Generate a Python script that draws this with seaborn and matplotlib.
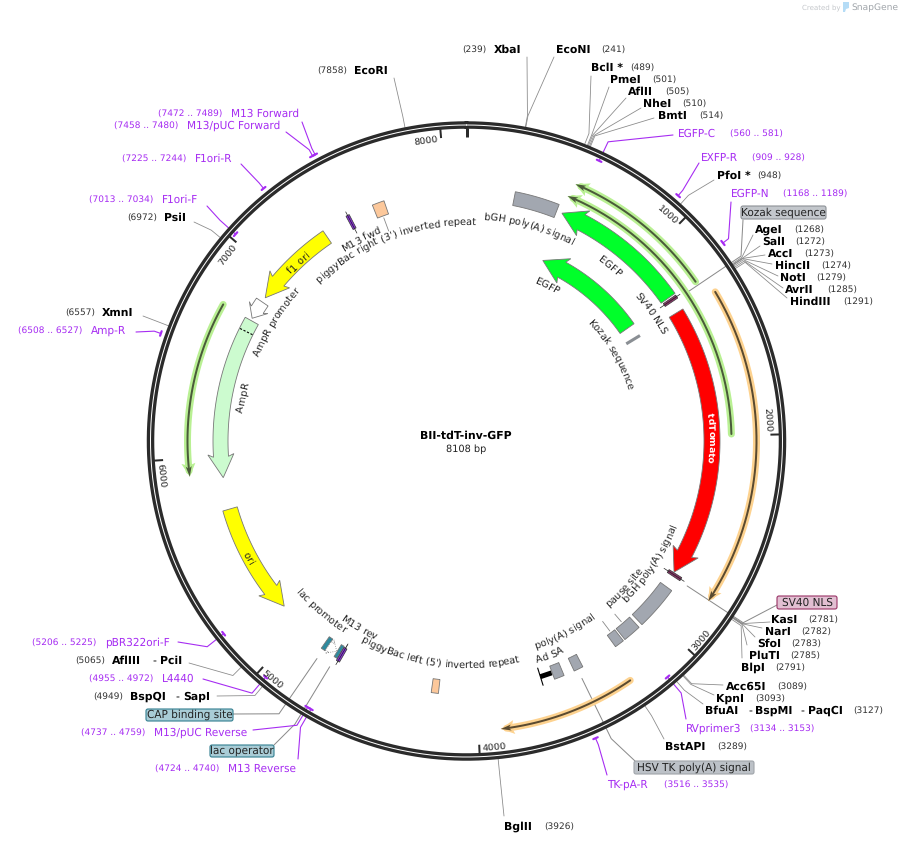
"""Plasmid map of BII-tdT-inv-GFP drawn on a pixel-sized axes."""
import numpy as np
import matplotlib
matplotlib.use("Agg")
import matplotlib.pyplot as plt
from matplotlib.font_manager import FontProperties
from matplotlib.patches import FancyBboxPatch
from matplotlib.textpath import text_to_path
import seaborn as sns

PLASMID_NAME = "BII-tdT-inv-GFP"
TOTAL_BP = 8108
TICK_BPS = [1000, 2000, 3000, 4000, 5000, 6000, 7000, 8000]

# ---- values (bp) ----
enzyme_names = ["XbaI", "EcoNI", "BclI *", "PmeI", "AflII", "NheI", "BmtI", "PfoI *", "AgeI", "SalI",
                "AccI", "HincII", "NotI", "AvrII", "HindIII", "KasI", "NarI", "SfoI", "PluTI", "BlpI",
                "Acc65I", "KpnI", "BfuAI", "BstAPI", "BglII", "BspQI", "AflIII", "PsiI", "XmnI", "EcoRI"]
enzyme_sites = [239, 241, 489, 501, 505, 510, 514, 948, 1268, 1272,
                1273, 1274, 1279, 1285, 1291, 2781, 2782, 2783, 2785, 2791,
                3089, 3093, 3127, 3289, 3926, 4949, 5065, 6972, 6557, 7858]

primer_names = ["EGFP-C", "EXFP-R", "EGFP-N", "RVprimer3", "TK-pA-R", "pBR322ori-F", "L4440",
                "M13/pUC Reverse", "M13 Reverse", "M13 Forward", "M13/pUC Forward", "F1ori-R",
                "F1ori-F", "Amp-R"]
primer_starts = [560, 909, 1168, 3134, 3516, 5206, 4955, 4737, 4724, 7472, 7458, 7225, 7013, 6508]
primer_ends = [581, 928, 1189, 3153, 3535, 5225, 4972, 4759, 4740, 7489, 7480, 7244, 7034, 6527]

arrow_names = ["tdTomato", "EGFP", "EGFP", "f1 ori", "AmpR", "ori"]
arrow_tails = [1320, 1232, 1239, 7335, 6739, 5720]
arrow_tips = [2754, 512, 516, 6879, 5888, 5131]

track_names = ["green_a", "green_b", "green_c", "orange_a", "orange_b"]
track_tails = [1243, 1993, 6741, 1330, 3280]
track_tips = [518, 505, 5915, 2782, 3901]

block_names = ["bGH top", "piggyBac R", "piggyBac L", "Ad SA", "HSV TK", "polyA", "pause", "bGH low"]
block_starts = [250, 7618, 4197, 3545, 3440, 3195, 3090, 2840]
block_ends = [482, 7681, 4234, 3597, 3489, 3245, 3185, 3070]

box_labels = ["Kozak sequence", "SV40 NLS", "CAP binding site", "lac operator", "HSV TK poly(A) signal"]
box_sites = [1262, 2777, 4831, 4757, 3470]

# ---- layout, all in pixels of the 899x844 picture ----
CX, CY = 466.5, 441.0
R_RING = 316.0
R_ELBOW = 331.0
R_FEATURE = 247.0
PX = 0.72  # one pixel as points at 100 dpi

# name: (name x, site x, text y, leader end x, leader end y)
ENZYME_LAYOUT = {
    "XbaI": (494, 462, 50, 527, 57), "EcoNI": (556, 601, 50, 554, 57), "BclI *": (591, 630, 68, 591, 76),
    "PmeI": (610, 652, 80, 609, 87), "AflII": (628, 665, 92, 626, 98), "NheI": (643, 682, 104, 641, 108),
    "BmtI": (658, 699, 116, 654, 118), "PfoI *": (717, 757, 176, 714, 180), "AgeI": (755, 794, 230, 753, 235),
    "SalI": (762, 795, 242, 760, 246), "AccI": (768, 804, 254, 765, 255), "HincII": (775, 821, 266, 772, 264),
    "NotI": (780, 816, 278, 778, 276), "AvrII": (785, 827, 290, 783, 288), "HindIII": (790, 843, 302, 787, 298),
    "KasI": (771, 808, 620, 770, 622), "NarI": (765, 801, 632, 762, 628), "SfoI": (757, 791, 644, 755, 637),
    "PluTI": (749, 790, 656, 747, 645), "BlpI": (741, 775, 668, 742, 658), "Acc65I": (726, 777, 687, 723, 685),
    "KpnI": (716, 755, 699, 714, 695), "BfuAI": (705, 853, 711, 703, 704), "BstAPI": (665, 717, 747, 664, 739),
    "BglII": (504, 544, 827, 504, 816), "BspQI": (130, 93, 697, 217, 696), "AflIII": (112, 75, 661, 189, 663),
    "PsiI": (164, 127, 218, 194, 222), "XmnI": (102, 65, 313, 143, 316), "EcoRI": (354, 317, 71, 394, 78),
}
ENZYME_EXTRAS = [("-", 748, 711), ("BspMI", 755, 711), ("-", 800, 711), ("PaqCI", 808, 711),
                 ("-", 175, 697), ("SapI", 183, 697), ("-", 152, 661), ("PciI", 160, 661)]

# name: (name x, range x, text y, leader end x, leader end y, bar radius)
PRIMER_LAYOUT = {
    "EGFP-C": (678, 730, 134, 673, 135, 310), "EXFP-R": (701, 752, 158, 699, 163, 324),
    "EGFP-N": (731, 783, 194, 731, 202, 324), "RVprimer3": (686, 750, 729, 686, 719, 310),
    "TK-pA-R": (607, 664, 785, 607, 775, 324), "pBR322ori-F": (105, 32, 643, 178, 642, 310),
    "L4440": (162, 89, 679, 203, 679, 310), "M13/pUC Reverse": (154, 81, 733, 253, 730, 310),
    "M13 Reverse": (228, 155, 769, 298, 759, 310), "M13 Forward": (231, 158, 114, 302, 122, 324),
    "M13/pUC Forward": (187, 114, 126, 286, 132, 324), "F1ori-R": (195, 122, 159, 241, 164, 324),
    "F1ori-F": (162, 89, 200, 207, 206, 310), "Amp-R": (91, 18, 331, 136, 332, 324),
}
BOX_LAYOUT = [
    (741, 206, 85, 13, "#c3c7cc", "#8c9196", 743, 220),
    (777, 596, 60, 13, "#e2bfd2", "#993366", 777, 605),
    (146, 709, 87, 12, "#a9ccd6", "#327f90", 233, 714),
    (210, 745, 64, 12, "#a9ccd6", "#327f90", 274, 745),
    (634, 761, 120, 13, "#bcc1c7", "#a0a5aa", 635, 761),
]
# text, centre bp, baseline radius, flipped, colour
CURVED_LABELS = [
    ("bGH poly(A) signal", 367, 222, False, "#222222"),
    ("piggyBac right (3') inverted repeat", 7650, 216, False, "#222222"),
    ("M13 fwd", 7486, 225, False, "#222222"),
    ("f1 ori", 7131, 242, False, "#222222"),
    ("AmpR promoter", 6800, 224, False, "#222222"),
    ("AmpR", 6329, 225, False, "#222222"),
    ("ori", 5446, 251, True, "#222222"),
    ("lac promoter", 4970, 228, True, "#222222"),
    ("M13 rev", 4730, 219, True, "#222222"),
    ("piggyBac left (5') inverted repeat", 4216, 227, True, "#222222"),
    ("Ad SA", 3576, 233, True, "#222222"),
    ("poly(A) signal", 3441, 219, True, "#222222"),
    ("pause site", 2996, 219, True, "#222222"),
    ("bGH poly(A) signal", 2786, 227, True, "#222222"),
    ("tdTomato", 2011, 242, False, "white"),
    ("EGFP", 883, 223, False, "#222222"),
    ("EGFP", 615, 172, False, "#222222"),
    ("SV40 NLS", 1243, 222, False, "#222222"),
    ("Kozak sequence", 1329, 169, False, "#222222"),
]
ARROW_STYLE = [("#ff0000", 245.5), ("#00ff2a", 247), ("#00ff2a", 196), ("#ffff00", 247), ("#ccfbcf", 246),
               ("#ffff00", 246)]
TRACK_STYLE = [("#b9f093", "#4a5a3a", 279), ("#b9f093", "#4a5a3a", 265), ("#b9f093", "#4a5a3a", 279),
               ("#fdd28f", "#5a4a30", 290), ("#fdd28f", "#5a4a30", 290)]
BLOCK_FILL = ["#a2a7b0", "#fcc89b", "#fcc89b", "#a2a7b0", "#a2a7b0", "#a2a7b0", "#a2a7b0", "#a2a7b0"]

PURPLE = "#a62cf2"
TEXT_FONT = "DejaVu Sans"
LABEL_SIZE = 7.1


def polar(bp, r):
    t = np.asarray(bp, dtype=float) / TOTAL_BP * 2 * np.pi
    return CX + r * np.sin(t), CY - r * np.cos(t)


def arc(ax, bp0, bp1, r, color, width, z, **kw):
    # the backbone and the thin tracks go through seaborn
    n = max(3, int(abs(bp1 - bp0) / 8))
    x, y = polar(np.linspace(bp0, bp1, n), r)
    sns.lineplot(x=x, y=y, sort=False, estimator=None, ax=ax, color=color,
                 linewidth=width * PX, zorder=z, legend=False, **kw)


def fill_block(ax, bp0, bp1, r0, r1, color, edge="#777777", z=2):
    bps = np.linspace(bp0, bp1, 40)
    xo, yo = polar(bps, r1)
    xi, yi = polar(bps[::-1], r0)
    ax.fill(np.r_[xo, xi], np.r_[yo, yi], facecolor=color, edgecolor=edge, linewidth=0.6, zorder=z)


def fill_arrow(ax, tail, tip, r, half, head, head_px, color, edge="#777777", z=2, **kw):
    sign = 1 if tip > tail else -1
    bp_per_px = TOTAL_BP / (2 * np.pi * r)
    base = tip - sign * head_px * bp_per_px
    wing = base - sign * 2.5 * bp_per_px
    bps = np.linspace(tail, base, 60)
    xo, yo = polar(bps, r + half)
    xi, yi = polar(bps[::-1], r - half)
    xw, yw = polar([wing, tip, wing], [r + head, r, r - head])
    ax.fill(np.r_[xo, xw, xi], np.r_[yo, yw, yi], facecolor=color, edgecolor=edge,
            linewidth=0.6, zorder=z, **kw)


def advance(text, fp):
    w, _, _ = text_to_path.get_text_width_height_descent(text + "|", fp, False)
    w0, _, _ = text_to_path.get_text_width_height_descent("|", fp, False)
    return (w - w0) * 100 / 72


def curved_text(ax, text, bp, r, flipped, color, size=LABEL_SIZE, weight="normal"):
    fp = FontProperties(family=TEXT_FONT, size=size, weight=weight)
    total = advance(text, fp)
    t0 = bp / TOTAL_BP * 360
    sign = -1 if flipped else 1
    for i, ch in enumerate(text):
        s0 = advance(text[:i], fp) - total / 2
        s1 = advance(text[:i + 1], fp) - total / 2
        if ch == " ":
            continue
        t_pen = t0 + sign * np.degrees(s0 / r)
        t_mid = t0 + sign * np.degrees((s0 + s1) / 2 / r)
        x, y = polar(t_pen / 360 * TOTAL_BP, r)
        rot = 180 - t_mid if flipped else -t_mid
        ax.text(x, y, ch, rotation=rot, rotation_mode="anchor", ha="left", va="baseline",
                fontproperties=fp, color=color, zorder=6)


def leader(ax, bp, r0, end, color, width=0.8, r_elbow=R_ELBOW, z=1):
    x0, y0 = polar(bp, r0)
    x1, y1 = polar(bp, r_elbow)
    ax.plot([x0, x1, end[0]], [y0, y1, end[1]], color=color, lw=width * PX, zorder=z,
            solid_joinstyle="round")


sns.set_theme(style="white")
plt.rcParams["font.family"] = [TEXT_FONT]
plt.rcParams["text.hinting"] = "no_hinting"

fig = plt.figure(figsize=(8.99, 8.44), dpi=100)
ax = fig.add_axes([0, 0, 1, 1])

# backbone
arc(ax, 0, TOTAL_BP, R_RING, "#2b2b2b", 7.5, 3)
arc(ax, 0, TOTAL_BP, R_RING, "white", 1.0, 3.1)
for bp in [0] + TICK_BPS:
    x, y = polar(bp, np.array([304.0, 313.0]))
    ax.plot(x, y, color="#2b2b2b", lw=(3 if bp == 0 else 2) * PX, zorder=3, solid_capstyle="butt")
for bp in TICK_BPS:
    top = bp < TOTAL_BP / 4 or bp > 3 * TOTAL_BP / 4
    off = 15 / (2 * np.pi * 305) * TOTAL_BP
    lab_bp = bp - off
    t = lab_bp / TOTAL_BP * 360
    x, y = polar(lab_bp, 300 if top else 310)
    ax.text(x, y, str(bp), rotation=-t if top else 180 - t, rotation_mode="anchor", ha="center",
            va="baseline", fontsize=6.8, color="#222222", zorder=6)

# thin tracks
for tail, tip, (light, dark, r) in zip(track_tails, track_tips, TRACK_STYLE):
    sign = 1 if tip > tail else -1
    stop = tip - sign * 6 / (2 * np.pi * r) * TOTAL_BP
    arc(ax, tail, stop, r, light, 7, 1.5)
    arc(ax, tail, stop, r, dark, 2, 1.7)
    fill_arrow(ax, stop, tip, r, 0, 7, 11, light, edge="none", z=1.6)
    fill_arrow(ax, stop, tip, r, 0, 3, 8, dark, edge="none", z=1.8)

# big arrows
for tail, tip, (color, r) in zip(arrow_tails, arrow_tips, ARROW_STYLE):
    half, head, head_px = 7.5, 13, 21
    if color == "#ff0000":
        half, head = 8, 14
    if color == "#00ff2a":
        half, head = 8.5, 14
    fill_arrow(ax, tail, tip, r, half, head, head_px, color)
fill_arrow(ax, 6852, 6752, R_FEATURE, 7, 11, 10, "white")
x, y = polar(6676, np.array([239.0, 253.0]))
ax.plot(x, y, color="black", lw=0.8, ls=(0, (2, 1.5)), zorder=4)

# plain blocks
for bp0, bp1, color in zip(block_starts, block_ends, BLOCK_FILL):
    fill_block(ax, bp0, bp1, R_FEATURE - 7, R_FEATURE + 7, color)

# small features
for bp0, bp1 in [(4820, 4843), (4747, 4765)]:
    fill_block(ax, bp0, bp1, 239, 253, "#2e8a9e")
fill_arrow(ax, 4820, 4768, R_FEATURE, 5, 8, 6, "white", edge="#888888", z=2, linestyle=":")
for bp, color in [(7482, "#8a2be2"), (4736, "#8a2be2"), (1250, "#8f2f6a"), (2766, "#8f2f6a")]:
    fill_block(ax, bp - 9, bp + 9, 240, 255, color, edge="#444444", z=4)
    x, y = polar(bp, np.array([235.0, 259.0]))
    ax.plot(x, y, color="#222222", lw=0.5, zorder=4)
x, y = polar(1322, np.array([187.0, 203.0]))
ax.plot(x, y, color="#8a8f94", lw=2.2, zorder=2, solid_capstyle="butt")
x, y = polar(np.array([3600, 3662]), R_FEATURE)
ax.plot(x, y, color="black", lw=3.6, zorder=3, solid_capstyle="butt")
x, y = polar(3662, np.array([238.0, 256.0]))
ax.plot(x, y, color="black", lw=0.8, zorder=3)

# short ticks from blocks to their labels
for bp, r0, r1 in [(7650, 238, 224), (3220, 238, 226), (3140, 238, 228), (4736, 256, 236)]:
    x, y = polar(bp, np.array([float(r0), float(r1)]))
    ax.plot(x, y, color="#888888", lw=0.6, zorder=1)

# curved labels
for text, bp, r, flipped, color in CURVED_LABELS:
    if color == "white":
        curved_text(ax, text, bp, r, flipped, color, size=6.7, weight="bold")
    else:
        curved_text(ax, text, bp, r, flipped, color)

# enzymes
for name, site in zip(enzyme_names, enzyme_sites):
    nx, sx, ty, ex, ey = ENZYME_LAYOUT[name]
    leader(ax, site, 319, (ex, ey), "#8a8a8a")
    ax.text(nx, ty, name, fontsize=7.8, fontweight="bold", color="black", va="center", ha="left", zorder=6)
    ax.text(sx, ty + 0.5, f"({site})", fontsize=6.5, color="#333333", va="center", ha="left", zorder=6)
for name, x, y in ENZYME_EXTRAS:
    ax.text(x, y, name, fontsize=7.8, fontweight="bold" if name != "-" else "normal",
            color="black", va="center", ha="left", zorder=6)

# primers
for name, p0, p1 in zip(primer_names, primer_starts, primer_ends):
    nx, rx, ty, ex, ey, r = PRIMER_LAYOUT[name]
    mid = (p0 + p1) / 2
    leader(ax, mid, r, (ex, ey), PURPLE, width=1.1, z=2.5)
    arc(ax, p0, p1, r, PURPLE, 2.2, 4)
    ax.text(nx, ty, name, fontsize=7.6, color=PURPLE, va="center", ha="left", zorder=6)
    ax.text(rx, ty + 0.5, f"({p0} .. {p1})", fontsize=6.5, color=PURPLE, va="center", ha="left", zorder=6)

# boxed feature labels
for text, site, (x, y, w, h, fc, ec, ex, ey) in zip(box_labels, box_sites, BOX_LAYOUT):
    leader(ax, site, 264, (ex, ey), "#8a8a8a", width=1.0)
    ax.add_patch(FancyBboxPatch((x + 2, y + 2), w - 4, h - 4, boxstyle="round,pad=2", facecolor=fc,
                                edgecolor=ec, linewidth=0.8, zorder=5))
    ax.text(x + w / 2, y + h / 2, text, fontsize=7.6, color="#222222", ha="center", va="center", zorder=6)

# centre title and the SnapGene mark
ax.text(466, 436, PLASMID_NAME, fontsize=7.8, fontweight="bold", color="black", ha="center", va="center")
ax.text(466, 449, f"{TOTAL_BP} bp", fontsize=7.0, color="#222222", ha="center", va="center")
ax.text(802, 8, "Created by", fontsize=5.0, color="#c4c7cb", ha="left", va="center")
ax.fill([843, 849, 849, 846, 845, 843], [2, 2, 8, 9, 12, 12], color="#b5dcf6", lw=0)
ax.text(851, 8, "SnapGene", fontsize=6.6, color="#a0a5aa", ha="left", va="center")

ax.set_xlim(0, 899)
ax.set_ylim(844, 0)
ax.set_axis_off()
fig.savefig("out.png", dpi=100, facecolor="white")
